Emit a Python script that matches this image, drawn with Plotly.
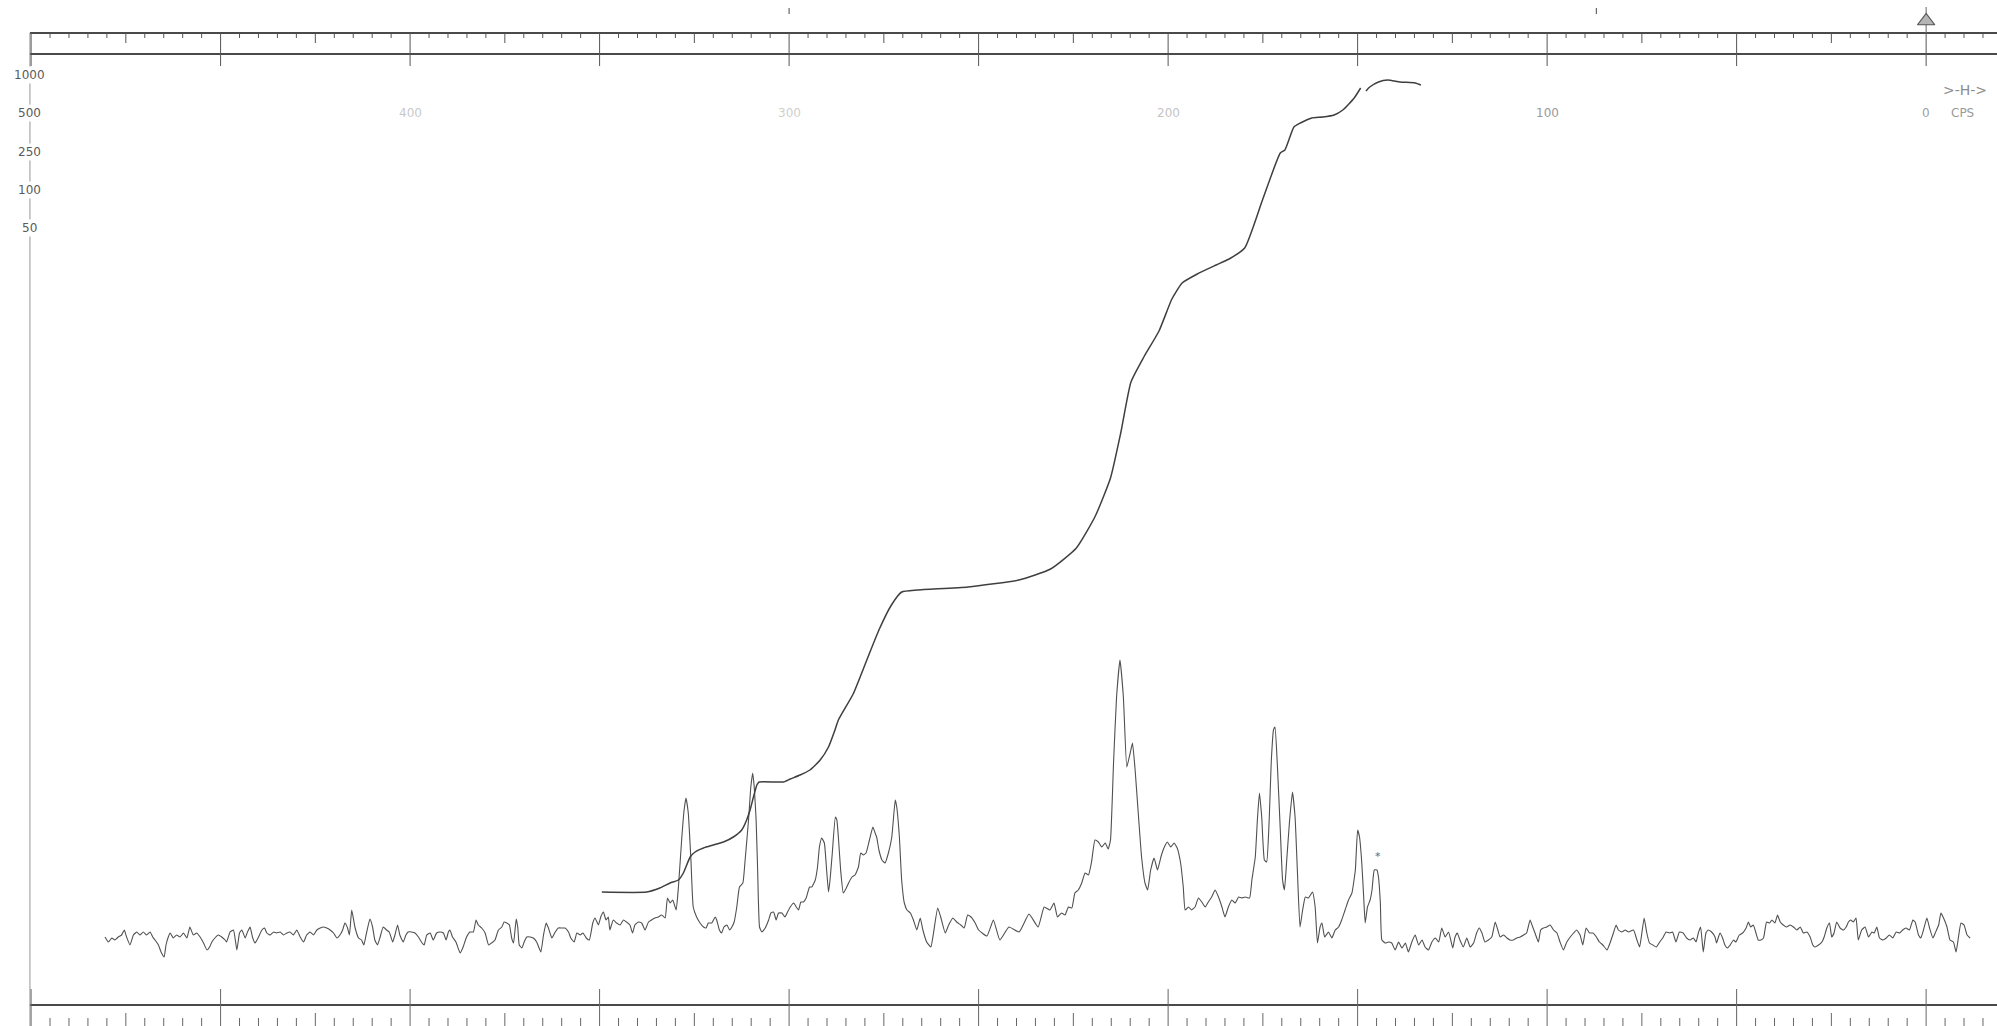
import numpy as np
import plotly.graph_objects as go

# ---------------------------------------------------------------------------
# Proton NMR trace, chemical shift in cps (downfield on the left) versus
# recorder pen height (arbitrary units above the lower ruler line).
# ---------------------------------------------------------------------------

# baseline noise, 480-416 cps
SPEC_LOW_FIELD = [
    (480.5, 65), (479.6, 60), (478.7, 64), (477.9, 62), (477.0, 65), (476.1, 67), (475.4, 72),
    (474.8, 65), (473.9, 57), (473.0, 67), (472.1, 70), (471.3, 67), (470.4, 70), (469.5, 67),
    (468.6, 70), (467.9, 65), (467.3, 62), (466.4, 57), (465.7, 50), (464.9, 45), (464.4, 57),
    (463.8, 65), (463.3, 69), (462.5, 64), (461.6, 67), (460.7, 65), (459.8, 69), (458.9, 64),
    (458.1, 75), (457.2, 67), (456.3, 69), (455.4, 65), (454.5, 59), (453.6, 52), (452.9, 55),
    (452.3, 60), (451.5, 64), (450.6, 67), (449.7, 65), (448.8, 62), (448.4, 60), (447.5, 70),
    (446.6, 72), (445.7, 52), (445.0, 69), (444.4, 72), (443.5, 64), (442.9, 70), (442.2, 75),
    (441.6, 65), (440.9, 59), (440.0, 65), (439.1, 72), (438.4, 74), (437.8, 69), (436.9, 67),
    (436.0, 70), (435.2, 69), (434.3, 70), (433.4, 67), (432.5, 69), (431.7, 70), (430.8, 67),
    (429.9, 72), (429.0, 65), (428.1, 60), (427.3, 67), (426.4, 70), (425.5, 67), (424.6, 72),
    (423.7, 74), (422.9, 75), (422.0, 74), (421.1, 72), (420.2, 69), (419.3, 64), (418.5, 67),
    (417.8, 72), (417.2, 79), (416.5, 74), (416.0, 67),
]

# baseline noise, 415-348 cps
SPEC_NOISE_MID = [
    (415.4, 92), (414.5, 74), (413.6, 64), (412.8, 62), (412.2, 57), (411.5, 69), (410.6, 83),
    (409.9, 75), (409.3, 62), (408.6, 57), (407.9, 65), (407.1, 75), (406.2, 72), (405.5, 70),
    (404.6, 60), (404.0, 67), (403.3, 77), (402.7, 67), (401.8, 60), (401.1, 67), (400.5, 70),
    (399.6, 70), (398.7, 69), (397.8, 65), (397.0, 60), (396.3, 57), (395.6, 67), (394.7, 69),
    (393.9, 62), (393.0, 69), (392.1, 70), (391.2, 69), (390.5, 62), (389.9, 70), (389.5, 72),
    (388.8, 65), (387.9, 60), (386.8, 49), (386.0, 55), (385.1, 65), (384.2, 70), (383.3, 70),
    (382.6, 82), (382.0, 77), (381.1, 74), (380.2, 69), (379.3, 57), (378.5, 59), (377.6, 62),
    (376.7, 72), (375.8, 75), (375.2, 80), (374.5, 79), (373.8, 77), (373.2, 64), (372.7, 59),
    (372.0, 83), (371.6, 75), (371.2, 57), (370.5, 54), (369.9, 60), (369.2, 65), (368.3, 65),
    (367.5, 64), (366.6, 60), (365.5, 50), (364.8, 67), (364.1, 79), (363.5, 74), (362.6, 64),
    (361.7, 70), (360.9, 74), (360.0, 74), (359.1, 74), (358.2, 70), (357.6, 64), (356.7, 60),
    (356.0, 69), (355.1, 67), (354.4, 69), (353.5, 64), (352.7, 62), (351.8, 79), (351.2, 84),
    (350.3, 77), (349.7, 85), (349.0, 90), (348.3, 82), (347.7, 85),
]

# first resonance group, 347-250 cps
SPEC_GROUP_A = [
    (347.3, 72), (346.4, 82), (345.5, 79), (344.6, 77), (343.7, 82), (342.9, 80), (342.0, 77),
    (341.3, 69), (340.7, 77), (339.8, 80), (338.9, 79), (338.0, 72), (337.1, 80), (336.3, 82),
    (335.4, 84), (334.5, 85), (333.6, 87), (332.7, 84), (332.1, 104), (331.4, 99), (330.7, 102),
    (329.8, 92), (329.2, 115), (328.3, 165), (327.7, 192), (327.2, 204), (326.6, 189),
    (325.9, 142), (325.3, 95), (324.4, 85), (323.5, 79), (322.6, 75), (321.9, 74), (321.3, 79),
    (320.4, 79), (319.5, 85), (319.1, 82), (318.4, 72), (317.8, 69), (317.2, 75), (316.4, 77),
    (315.7, 72), (315.1, 75), (314.5, 80), (313.8, 95), (313.1, 115), (312.2, 119), (311.6, 142),
    (310.7, 182), (310.1, 215), (309.6, 229), (309.2, 215), (308.7, 182), (308.3, 132),
    (307.8, 75), (307.2, 70), (306.3, 74), (305.4, 82), (304.8, 89), (304.1, 90), (303.4, 82),
    (302.8, 89), (301.9, 89), (301.1, 85), (300.4, 90), (299.7, 95), (298.8, 99), (298.1, 95),
    (297.5, 92), (296.9, 100), (296.2, 100), (295.5, 104), (294.6, 115), (294.0, 115),
    (293.1, 122), (292.5, 135), (292.0, 155), (291.4, 164), (290.7, 159), (290.1, 132),
    (289.6, 110), (289.2, 122), (288.6, 149), (287.8, 185), (287.4, 182), (287.0, 165),
    (286.4, 132), (285.7, 109), (284.9, 114), (284.3, 119), (283.4, 125), (282.6, 127),
    (281.7, 135), (281.1, 149), (280.4, 147), (279.7, 149), (278.8, 162), (277.9, 175),
    (277.3, 169), (276.9, 165), (276.3, 152), (275.5, 142), (274.7, 139), (273.8, 149),
    (272.9, 165), (272.0, 202), (271.6, 195), (270.9, 165), (270.3, 122), (269.6, 99),
    (268.9, 92), (268.0, 89), (267.2, 82), (266.3, 72), (265.4, 84), (264.7, 72), (263.7, 60),
    (262.6, 55), (261.9, 69), (260.8, 94), (260.0, 85), (258.8, 69), (257.9, 77), (256.8, 84),
    (255.8, 80), (254.7, 77), (253.8, 74), (252.9, 87), (252.0, 85), (250.9, 79), (250.0, 72),
    (247.8, 66), (246.1, 82), (244.4, 62), (242.0, 75), (239.3, 70), (236.7, 88), (234.3, 75),
    (232.7, 95),
]

# second resonance group, 231-126 cps
SPEC_GROUP_B = [
    (231.2, 92), (230.1, 99), (229.2, 85), (228.1, 89), (227.2, 87), (226.3, 95), (225.4, 94),
    (224.6, 109), (223.7, 112), (222.8, 119), (221.9, 129), (221.0, 127), (220.2, 140),
    (219.3, 162), (218.4, 160), (217.5, 155), (216.6, 159), (215.8, 153), (215.2, 162),
    (214.4, 239), (213.6, 305), (212.7, 342), (211.8, 305), (210.9, 235), (210.0, 249),
    (209.4, 259), (208.7, 232), (207.8, 185), (207.0, 145), (206.1, 119), (205.4, 112),
    (204.6, 132), (203.7, 144), (202.8, 132), (201.9, 145), (201.1, 154), (200.2, 160),
    (199.3, 155), (198.4, 159), (197.6, 154), (196.7, 139), (196.0, 115), (195.5, 92),
    (194.6, 95), (193.8, 92), (192.9, 95), (192.0, 104), (191.1, 100), (190.2, 95), (189.4, 100),
    (188.5, 105), (187.6, 112), (186.7, 105), (185.8, 95), (185.0, 85), (184.1, 95), (183.2, 102),
    (182.3, 99), (181.4, 105), (180.6, 104), (179.7, 105), (178.5, 104), (177.9, 122),
    (177.0, 145), (176.4, 185), (175.9, 209), (175.3, 185), (174.6, 142), (174.0, 140),
    (173.3, 185), (172.8, 239), (172.2, 272), (171.8, 275), (171.2, 239), (170.4, 172),
    (169.8, 122), (169.3, 112), (168.7, 142), (168.0, 179), (167.2, 210), (166.5, 185),
    (165.9, 132), (165.2, 75), (164.5, 92), (163.8, 105), (163.0, 104), (161.9, 110), (161.2, 95),
    (160.6, 59), (159.9, 75), (159.4, 79), (158.7, 65), (157.7, 70), (156.8, 64), (155.9, 72),
    (155.0, 75), (154.2, 82), (153.3, 92), (152.4, 102), (151.5, 109), (150.6, 132), (150.0, 172),
    (149.5, 165), (148.9, 139), (148.4, 105), (148.0, 79), (147.4, 95), (146.7, 102),
    (146.2, 112), (145.6, 132), (144.9, 132), (144.5, 125), (144.0, 99), (143.6, 62), (142.7, 59),
    (141.8, 60), (141.0, 59), (140.1, 52), (139.2, 60), (138.3, 54), (137.4, 59), (136.6, 50),
    (135.7, 60), (134.8, 67), (133.9, 57), (133.0, 62), (132.2, 55), (131.3, 52), (130.4, 60),
    (129.5, 64), (128.6, 60), (127.8, 74), (126.9, 65), (126.0, 70),
]

# baseline noise, 125-65 cps
SPEC_NOISE_HIGH = [
    (124.9, 54), (124.3, 65), (123.7, 69), (123.0, 62), (122.1, 55), (121.2, 64), (120.3, 55),
    (119.4, 59), (118.6, 69), (117.9, 74), (117.2, 69), (116.4, 60), (115.5, 62), (114.6, 65),
    (113.7, 80), (113.0, 72), (112.4, 65), (111.5, 67), (110.6, 64), (109.8, 62), (108.9, 62),
    (108.0, 64), (107.1, 65), (106.2, 67), (105.4, 69), (104.5, 82), (103.8, 75), (103.2, 69),
    (102.3, 60), (101.7, 72), (101.0, 74), (100.1, 75), (99.2, 77), (98.3, 72), (97.4, 69),
    (96.6, 60), (95.7, 52), (94.8, 60), (93.9, 65), (93.0, 69), (92.2, 72), (91.3, 67),
    (90.6, 57), (89.7, 74), (88.8, 69), (87.9, 69), (87.0, 65), (86.2, 60), (85.3, 57),
    (84.2, 52), (83.4, 59), (82.5, 69), (81.8, 77), (81.2, 72), (80.3, 70), (79.4, 72),
    (78.5, 70), (77.2, 72), (76.3, 62), (75.6, 55), (75.0, 69), (74.4, 84), (73.7, 69),
    (73.0, 59), (72.1, 57), (71.2, 55), (70.3, 60), (69.5, 64), (68.6, 70), (67.7, 69),
    (66.9, 70), (66.0, 60), (65.1, 70),
]

# baseline noise, 64 to -12 cps (TMS end)
SPEC_HIGH_FIELD = [
    (64.1, 69), (63.2, 64), (62.3, 62), (61.4, 64), (60.7, 60), (60.1, 69), (59.5, 75),
    (58.8, 50), (58.1, 69), (57.5, 72), (56.6, 70), (55.7, 65), (55.3, 59), (54.4, 69),
    (53.7, 64), (53.1, 57), (52.4, 54), (51.7, 57), (50.8, 62), (50.2, 60), (49.3, 67),
    (48.4, 69), (47.5, 74), (46.9, 80), (46.3, 75), (45.6, 77), (44.9, 69), (44.3, 62),
    (43.6, 62), (42.9, 64), (42.1, 80), (41.3, 79), (40.7, 82), (39.9, 79), (39.2, 87),
    (38.5, 80), (37.7, 77), (36.8, 75), (35.9, 77), (35.0, 75), (34.1, 72), (33.2, 75),
    (32.4, 69), (31.5, 70), (30.6, 65), (29.9, 57), (29.3, 55), (28.4, 57), (27.5, 60),
    (26.9, 65), (26.2, 74), (25.5, 79), (24.9, 65), (24.3, 69), (23.6, 80), (22.7, 74),
    (21.8, 72), (21.1, 75), (20.5, 80), (19.9, 82), (19.2, 80), (18.5, 84), (17.9, 62),
    (17.0, 72), (16.1, 75), (15.2, 65), (14.3, 70), (13.7, 69), (13.0, 75), (12.3, 64),
    (11.4, 62), (10.5, 64), (9.7, 67), (8.8, 64), (7.9, 70), (7.0, 69), (6.2, 72), (5.3, 74),
    (4.4, 72), (3.5, 82), (2.9, 80), (2.0, 67), (1.4, 64), (0.7, 72), (-0.2, 84), (-0.9, 74),
    (-1.8, 64), (-2.4, 69), (-3.3, 77), (-3.9, 89), (-4.6, 84), (-5.5, 75), (-6.3, 62),
    (-7.2, 60), (-7.9, 50), (-8.5, 64), (-9.2, 79), (-10.0, 77), (-10.8, 67), (-11.6, 64),
]

# integrator trace (running area), drawn by the pen in two strokes
INTEGRAL_MAIN = [
    (349.4, 110), (337.6, 110), (334.1, 114), (331.4, 119), (329.2, 122), (327.9, 129),
    (326.1, 145), (324.8, 150), (322.6, 154), (320.0, 157), (317.3, 160), (314.7, 165),
    (312.5, 172), (311.2, 182), (310.3, 192), (309.4, 205), (308.5, 217), (307.9, 220),
    (301.5, 220), (299.7, 223), (297.1, 227), (294.5, 232), (291.8, 242), (289.6, 255),
    (287.9, 272), (287.0, 282), (283.1, 308), (279.7, 340), (276.3, 372), (273.0, 397),
    (270.3, 410), (266.2, 412), (252.8, 415), (239.4, 422), (231.0, 433), (224.2, 454),
    (219.2, 486), (215.2, 524), (212.5, 569), (209.8, 620), (206.4, 645), (202.4, 671),
    (199.0, 703), (196.3, 719), (192.3, 728), (187.3, 737), (183.9, 743), (179.8, 754),
    (175.1, 802), (170.4, 849), (169.2, 852), (166.8, 875), (165.1, 879), (162.1, 884),
    (159.2, 885), (156.2, 887), (153.9, 892), (150.9, 904), (149.2, 914),
]
INTEGRAL_TAIL = [
    (147.8, 911), (146.8, 915), (144.5, 920), (142.1, 922), (138.8, 920), (134.8, 919),
    (133.3, 917),
]

# printed chart-paper labels
SWEEP_LABELS = ["1000", "500", "250", "100", "50"]
SWEEP_LEVELS = [927, 889, 850, 812, 774]
SCALE_LABELS = ["400", "300", "200", "100", "0"]
SCALE_VALUES = [400, 300, 200, 100, 0]
SCALE_COLORS = ["#c9c9c9", "#cfcfcf", "#c4c4c4", "#9a9a9a", "#a0a0a0"]

# ruler geometry (chart units)
X_LEFT, X_RIGHT = 508.2, -18.7
Y_BOTTOM, Y_TOP = -24, 1002
RULER_START = 500.3
TOP_LINE, TOP_LINE2, BOTTOM_LINE = 969, 948, -3

INK = "#3f3f3f"
RULER_INK = "#4a4a4a"


def split(pairs):
    return [p[0] for p in pairs], [p[1] for p in pairs]


def tick_path(positions, y0, y1):
    xs, ys = [], []
    for p in positions:
        xs += [p, p, None]
        ys += [y0, y1, None]
    return xs, ys


fig = go.Figure()

# chart-paper rulers
ticks5 = np.arange(500, -16, -5)
major = [t for t in ticks5 if t % 50 == 0]
medium = [t for t in ticks5 if t % 50 == 25]
minor = [t for t in ticks5 if t % 25 != 0]

ruler_segments = [
    ([RULER_START, X_RIGHT], [TOP_LINE, TOP_LINE], 2.0),
    ([RULER_START, X_RIGHT], [TOP_LINE2, TOP_LINE2], 2.0),
    ([RULER_START, X_RIGHT], [BOTTOM_LINE, BOTTOM_LINE], 2.0),
    ([RULER_START, RULER_START], [TOP_LINE, Y_BOTTOM], 0.9),
]
for xs, ys, w in ruler_segments:
    fig.add_trace(go.Scatter(x=xs, y=ys, mode="lines",
                             line=dict(color=RULER_INK if w > 1 else "#8a8a8a", width=w),
                             hoverinfo="skip"))

for pos, y0, y1, w, col in [
    (minor, TOP_LINE, TOP_LINE - 5, 1.0, "#555"),
    (medium, TOP_LINE, TOP_LINE - 10, 1.0, "#555"),
    (major, TOP_LINE, TOP_LINE - 33, 1.0, "#555"),
    ([0], TOP_LINE + 26, TOP_LINE, 1.0, "#666"),
    ([300, 87], TOP_LINE + 25, TOP_LINE + 19, 1.2, "#666"),
    (minor, BOTTOM_LINE - 13, Y_BOTTOM, 1.0, "#666"),
    (medium, BOTTOM_LINE - 8, Y_BOTTOM, 1.0, "#666"),
    (major, BOTTOM_LINE + 16, Y_BOTTOM, 1.0, "#666"),
]:
    xs, ys = tick_path(pos, y0, y1)
    fig.add_trace(go.Scatter(x=xs, y=ys, mode="lines", line=dict(color=col, width=w),
                             hoverinfo="skip"))

# reference triangle over the TMS zero
fig.add_trace(go.Scatter(x=[0], y=[981], mode="markers",
                         marker=dict(symbol="triangle-up", size=15, color="#b5b5b5",
                                     line=dict(color="#555", width=1.2)),
                         hoverinfo="skip"))

# spectrum
spec = SPEC_LOW_FIELD + SPEC_NOISE_MID + SPEC_GROUP_A + SPEC_GROUP_B + SPEC_NOISE_HIGH + SPEC_HIGH_FIELD
sx, sy = split(spec)
fig.add_trace(go.Scatter(x=sx, y=sy, mode="lines",
                         line=dict(color="#505050", width=1.1, shape="spline", smoothing=0.4),
                         hoverinfo="skip"))

# integral
for part in (INTEGRAL_MAIN, INTEGRAL_TAIL):
    ix, iy = split(part)
    fig.add_trace(go.Scatter(x=ix, y=iy, mode="lines",
                             line=dict(color=INK, width=1.5, shape="spline", smoothing=0.5),
                             hoverinfo="skip"))

annotations = []
for label, level in zip(SWEEP_LABELS, SWEEP_LEVELS):
    annotations.append(dict(x=RULER_START, y=level, text=label, showarrow=False,
                            xanchor="center", yanchor="middle", bgcolor="white",
                            font=dict(family="DejaVu Sans", size=12, color="#5a5a5a")))
for label, val, col in zip(SCALE_LABELS, SCALE_VALUES, SCALE_COLORS):
    annotations.append(dict(x=val, y=889, text=label, showarrow=False,
                            xanchor="center", yanchor="middle",
                            font=dict(family="DejaVu Sans", size=12, color=col)))
annotations.append(dict(x=-9.7, y=889, text="CPS", showarrow=False, xanchor="center",
                        yanchor="middle", font=dict(family="DejaVu Sans", size=12, color="#9a9a9a")))
annotations.append(dict(x=-10.3, y=912, text="&gt;-H-&gt;", showarrow=False, xanchor="center",
                        yanchor="middle", font=dict(family="DejaVu Sans", size=14, color="#8c8c8c")))
annotations.append(dict(x=144.5, y=146, text="*", showarrow=False, xanchor="center",
                        yanchor="middle", font=dict(family="DejaVu Sans", size=11, color="#666")))

fig.update_layout(
    width=1997, height=1026,
    margin=dict(l=0, r=0, t=0, b=0),
    paper_bgcolor="white", plot_bgcolor="white",
    showlegend=False,
    xaxis=dict(range=[X_LEFT, X_RIGHT], visible=False, domain=[0, 1]),
    yaxis=dict(range=[Y_BOTTOM, Y_TOP], visible=False, domain=[0, 1]),
    annotations=annotations,
)

fig.write_html("out.html")
